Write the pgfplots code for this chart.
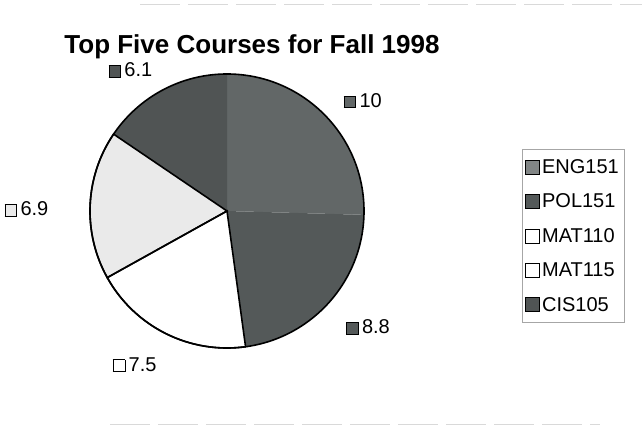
\documentclass[border=0pt]{standalone}
\usepackage{fontspec}
\setmainfont{Liberation Sans}
\usepackage{pgfplots}
\usepackage{pgfplotstable}
\pgfplotsset{compat=1.18}

\definecolor{engc}{RGB}{98,103,103}
\definecolor{polc}{RGB}{84,89,89}
\definecolor{matA}{RGB}{255,255,255}
\definecolor{matB}{RGB}{234,234,234}
\definecolor{cisc}{RGB}{80,84,84}

% course, enrolment value, slice fill, slice outline
\pgfplotstableread{
course value fillc edge
ENG151 10  engc none
POL151 8.8 polc none
MAT110 7.5 matA black
MAT115 6.9 matB black
CIS105 6.1 cisc none
}\piedata

\begin{document}
\begin{tikzpicture}[x=1bp,y=1bp]
\path[use as bounding box] (0,0) rectangle (642,428);
% faint scan edges
\draw[gray!30, line width=1bp, dash pattern=on 40bp off 8bp] (140,423) -- (642,423);
\draw[gray!30, line width=1bp, dash pattern=on 40bp off 8bp] (110,4) -- (600,4);

\node[font=\bfseries\fontsize{26bp}{30bp}\selectfont, anchor=base] at (252,375) {Top Five Courses for Fall 1998};

\begin{axis}[
    at={(90bp,80bp)}, anchor=south west,
    width=274bp, height=274bp, scale only axis,
    xmin=-1, xmax=1, ymin=-1, ymax=1,
    hide axis, clip=false,
    legend image code/.code={\draw[#1, line width=0.8bp] (0bp,-7bp) rectangle (14bp,7bp);},
    legend style={at={(1.577,0.725)}, anchor=north west, draw=gray!70,
        font=\fontsize{20bp}{24bp}\selectfont, row sep=15bp,
        inner xsep=3bp, inner ysep=8bp, cells={anchor=west}},
]
\addlegendimage{fill=engc!80, draw=black}
\addlegendentry{ENG151}
\addlegendimage{fill=polc, draw=black}
\addlegendentry{POL151}
\addlegendimage{fill=white, draw=black}
\addlegendentry{MAT110}
\addlegendimage{fill=white, draw=black}
\addlegendentry{MAT115}
\addlegendimage{fill=cisc, draw=black}
\addlegendentry{CIS105}

\pgfplotsextra{
  \xdef\tot{0}
  \pgfplotstableforeachcolumnelement{value}\of\piedata\as\val{%
    \pgfmathsetmacro\tmp{\tot+\val}\xdef\tot{\tmp}}
  % slices, clockwise from 12 o'clock
  \xdef\cum{0}
  \foreach \i in {0,...,4}{
    \pgfplotstablegetelem{\i}{value}\of\piedata \let\val\pgfplotsretval
    \pgfplotstablegetelem{\i}{fillc}\of\piedata \let\pc\pgfplotsretval
    \pgfmathsetmacro\sa{90-\cum/\tot*360}
    \pgfmathsetmacro\ea{90-(\cum+\val)/\tot*360}
    \pgfmathsetmacro\xs{cos(\sa)}
    \pgfmathsetmacro\ys{sin(\sa)}
    \fill[fill=\pc] (axis cs:0,0) -- (axis cs:\xs,\ys) arc[start angle=\sa, end angle=\ea, radius=137bp] -- cycle;
    \pgfmathsetmacro\tmp{\cum+\val}\xdef\cum{\tmp}
  }
  % outlines and value labels
  \xdef\cum{0}
  \foreach \i in {0,...,4}{
    \pgfplotstablegetelem{\i}{value}\of\piedata \let\val\pgfplotsretval
    \pgfplotstablegetelem{\i}{fillc}\of\piedata \let\pc\pgfplotsretval
    \pgfplotstablegetelem{\i}{edge}\of\piedata \let\pe\pgfplotsretval
    \pgfmathsetmacro\sa{90-\cum/\tot*360}
    \pgfmathsetmacro\ea{90-(\cum+\val)/\tot*360}
    \pgfmathsetmacro\xs{cos(\sa)}
    \pgfmathsetmacro\ys{sin(\sa)}
    \draw[draw=\pe, line width=1.6bp] (axis cs:0,0) -- (axis cs:\xs,\ys) arc[start angle=\sa, end angle=\ea, radius=137bp] -- cycle;
    \pgfmathsetmacro\ma{(\sa+\ea)/2}
    \pgfmathsetmacro\lx{1.43*cos(\ma)-0.035}
    \pgfmathsetmacro\ly{1.21*sin(\ma)-0.04}
    \node[font=\fontsize{20bp}{24bp}\selectfont, inner sep=0pt] at (axis cs:\lx,\ly)
      {\setlength{\fboxsep}{0pt}\setlength{\fboxrule}{0.8bp}\fcolorbox{black}{\pc}{\rule{0pt}{11bp}\rule{11bp}{0pt}}\,\val};
    \pgfmathsetmacro\tmp{\cum+\val}\xdef\cum{\tmp}
  }
  \draw[line width=1.6bp] (axis cs:0,0) circle[radius=137bp];
}
\end{axis}
\end{tikzpicture}
\end{document}
